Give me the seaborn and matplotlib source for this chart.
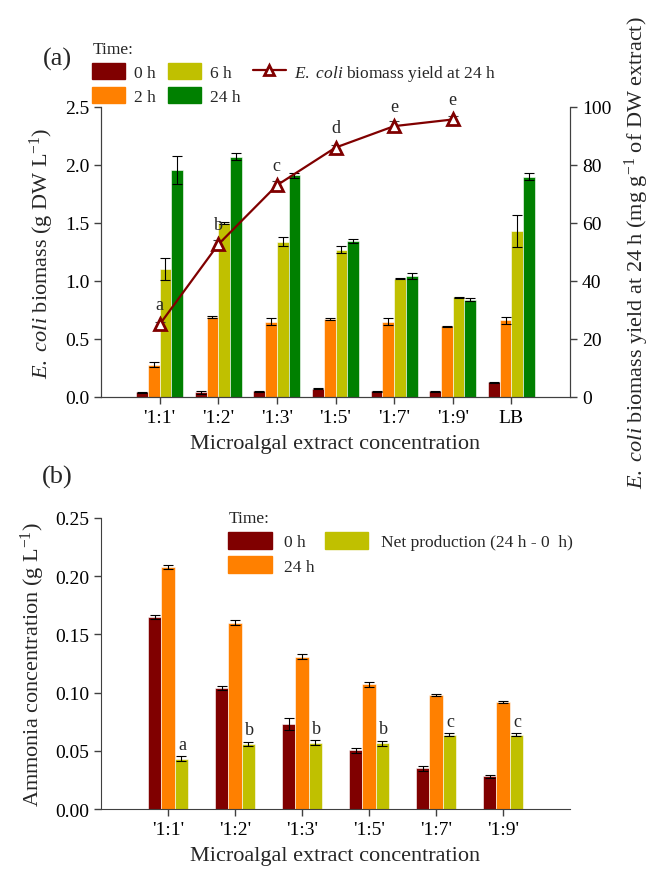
import numpy as np
import pandas as pd
import matplotlib
matplotlib.use("Agg")
import matplotlib.pyplot as plt
import seaborn as sns
from matplotlib.patches import Patch
from matplotlib.lines import Line2D

# ---- data panel (a) ----
conc_a = ["'1:1'", "'1:2'", "'1:3'", "'1:5'", "'1:7'", "'1:9'", "LB"]
times_a = ["0 h", "2 h", "6 h", "24 h"]
biomass_0h = [0.04, 0.04, 0.05, 0.07, 0.05, 0.05, 0.125]
biomass_2h = [0.28, 0.69, 0.65, 0.675, 0.65, 0.61, 0.66]
biomass_6h = [1.10, 1.50, 1.34, 1.27, 1.02, 0.86, 1.43]
biomass_24h = [1.96, 2.07, 1.91, 1.345, 1.045, 0.84, 1.90]
err_0h = [0.005, 0.01, 0.005, 0.005, 0.005, 0.005, 0.005]
err_2h = [0.02, 0.01, 0.03, 0.01, 0.03, 0.005, 0.03]
err_6h = [0.095, 0.005, 0.04, 0.03, 0.005, 0.005, 0.14]
err_24h = [0.12, 0.03, 0.02, 0.015, 0.025, 0.01, 0.03]
yield_24h = [25, 52.6, 73, 86, 93.4, 95.7]
yield_err = [1.0, 1.5, 1.5, 1.0, 1.8, 1.2]
yield_letters = ["a", "b", "c", "d", "e", "e"]

# ---- data panel (b) ----
conc_b = ["'1:1'", "'1:2'", "'1:3'", "'1:5'", "'1:7'", "'1:9'"]
times_b = ["0 h", "24 h", "Net production (24 h - 0  h)"]
nh3_0h = [0.165, 0.104, 0.073, 0.0505, 0.035, 0.028]
nh3_24h = [0.208, 0.160, 0.131, 0.107, 0.098, 0.092]
nh3_net = [0.0433, 0.056, 0.057, 0.0565, 0.064, 0.064]
nh3_err_0h = [0.002, 0.002, 0.005, 0.002, 0.002, 0.001]
nh3_err_24h = [0.002, 0.002, 0.002, 0.002, 0.001, 0.001]
nh3_err_net = [0.002, 0.002, 0.002, 0.002, 0.001, 0.001]
net_letters = ["a", "b", "b", "b", "c", "c"]

colors_a = ["#800000", "#FF8000", "#C0C000", "#008000"]
colors_b = ["#800000", "#FF8000", "#C0C000"]

sns.set_style("ticks")
plt.rcParams["font.family"] = ["Liberation Serif", "DejaVu Serif"]
plt.rcParams["mathtext.fontset"] = "custom"
plt.rcParams["mathtext.rm"] = "Liberation Serif"
plt.rcParams["mathtext.it"] = "Liberation Serif:italic"
plt.rcParams["axes.edgecolor"] = "#404040"
plt.rcParams["xtick.color"] = "#404040"
plt.rcParams["ytick.color"] = "#404040"
plt.rcParams["xtick.labelcolor"] = "black"
plt.rcParams["ytick.labelcolor"] = "black"

fig = plt.figure(figsize=(6.54, 8.78), dpi=100)
ax1 = fig.add_axes([0.1544, 0.5467, 0.7172, 0.3303])
ax3 = fig.add_axes([0.1544, 0.0774, 0.7172, 0.3315])


def long_table(concs, times, series):
    rows = []
    for t, vals in zip(times, series):
        for c, v in zip(concs, vals):
            rows.append({"conc": c, "time": t, "value": v})
    return pd.DataFrame(rows)


def add_errors(ax, errs):
    for cont, e in zip(ax.containers, errs):
        xs = [b.get_x() + b.get_width() / 2 for b in cont]
        ys = [b.get_height() for b in cont]
        ax.errorbar(xs, ys, yerr=e, fmt="none", ecolor="black",
                    elinewidth=0.8, capsize=3.5, capthick=0.8, zorder=5)


# ---------- panel (a) ----------
df_a = long_table(conc_a, times_a, [biomass_0h, biomass_2h, biomass_6h, biomass_24h])
sns.barplot(data=df_a, x="conc", y="value", hue="time", order=conc_a,
            hue_order=times_a, palette=colors_a, width=0.8, errorbar=None,
            saturation=1, edgecolor="white", linewidth=0.4, legend=False, ax=ax1)
add_errors(ax1, [err_0h, err_2h, err_6h, err_24h])
ax1.set_xlim(-1, 7)
ax1.set_ylim(0, 2.5)
ax1.set_yticks(np.arange(0, 2.51, 0.5))
ax1.set_yticklabels([f"{v:.1f}" for v in np.arange(0, 2.51, 0.5)])
ax1.set_xlabel("Microalgal extract concentration", fontsize=16, labelpad=6)
ax1.set_ylabel(r"$\it{E.\ coli}$ biomass (g DW L$^{-1}$)", fontsize=16, labelpad=6)
ax1.tick_params(labelsize=14, direction="out", length=5, width=1)
sns.despine(ax=ax1, top=True, right=False)

ax2 = ax1.twinx()
pos = np.arange(len(yield_24h))
sns.lineplot(x=pos, y=yield_24h, color="#800000", linewidth=1.6, marker="^",
             markersize=8, markerfacecolor="white", markeredgecolor="#800000",
             markeredgewidth=2, ax=ax2, zorder=6)
ax2.errorbar(pos, yield_24h, yerr=yield_err, fmt="none", ecolor="#404040",
             elinewidth=0.8, capsize=3.5, capthick=0.8, zorder=5)
for x, y, lab in zip(pos, yield_24h, yield_letters):
    ax2.text(x, y + 4, lab, ha="center", va="bottom", fontsize=13)
ax2.set_ylim(0, 100)
ax2.set_yticks(np.arange(0, 101, 20))
ax2.set_ylabel(r"$\it{E.\ coli}$ biomass yield at 24 h (mg g$^{-1}$ of DW extract)",
               fontsize=16, labelpad=8)
ax2.tick_params(labelsize=14, direction="out", length=5, width=1)
ax2.spines["top"].set_visible(False)

handles_a = [Patch(color=colors_a[0], label="0 h"), Patch(color=colors_a[1], label="2 h"),
             Patch(color=colors_a[2], label="6 h"), Patch(color=colors_a[3], label="24 h"),
             Line2D([], [], color="#800000", marker="^", markersize=7,
                    markerfacecolor="white", markeredgewidth=2, linewidth=1.6,
                    label=r"$\it{E.\ coli}$ biomass yield at 24 h"),
             Patch(alpha=0, label="")]
fig.legend(handles=handles_a, title="Time:", loc="upper left",
           bbox_to_anchor=(0.128, 0.962), ncol=3, frameon=False, fontsize=12.5,
           title_fontsize=12.5, handlelength=1.9, handleheight=1.0,
           columnspacing=0.7, handletextpad=0.5, labelspacing=0.35,
           borderpad=0, alignment="left")
fig.text(0.088, 0.932, "(a)", fontsize=19, ha="center", va="center")

# ---------- panel (b) ----------
df_b = long_table(conc_b, times_b, [nh3_0h, nh3_24h, nh3_net])
sns.barplot(data=df_b, x="conc", y="value", hue="time", order=conc_b,
            hue_order=times_b, palette=colors_b, width=0.6, errorbar=None,
            saturation=1, edgecolor="white", linewidth=0.4, legend=False, ax=ax3)
add_errors(ax3, [nh3_err_0h, nh3_err_24h, nh3_err_net])
net_bars = ax3.containers[2]
for b, lab, e in zip(net_bars, net_letters, nh3_err_net):
    ax3.text(b.get_x() + b.get_width() / 2 + 0.02, b.get_height() + e + 0.003, lab,
             ha="center", va="bottom", fontsize=13)
ax3.set_xlim(-1, 6)
ax3.set_ylim(0, 0.25)
ax3.set_yticks(np.arange(0, 0.251, 0.05))
ax3.set_yticklabels([f"{v:.2f}" for v in np.arange(0, 0.251, 0.05)])
ax3.set_xlabel("Microalgal extract concentration", fontsize=16, labelpad=6)
ax3.set_ylabel(r"Ammonia concentration (g L$^{-1}$)", fontsize=16, labelpad=6)
ax3.tick_params(labelsize=14, direction="out", length=5, width=1)
sns.despine(ax=ax3)

handles_b = [Patch(color=colors_b[0], label="0 h"), Patch(color=colors_b[1], label="24 h"),
             Patch(color=colors_b[2], label="Net production (24 h - 0  h)"),
             Patch(alpha=0, label="")]
fig.legend(handles=handles_b, title="Time:", loc="upper left",
           bbox_to_anchor=(0.336, 0.428), ncol=2, frameon=False, fontsize=12.5,
           title_fontsize=12.5, handlelength=2.5, handleheight=1.1,
           columnspacing=0.6, handletextpad=0.7, labelspacing=0.35,
           borderpad=0, alignment="left")
fig.text(0.088, 0.456, "(b)", fontsize=19, ha="center", va="center")

fig.savefig("out.png", dpi=100)
